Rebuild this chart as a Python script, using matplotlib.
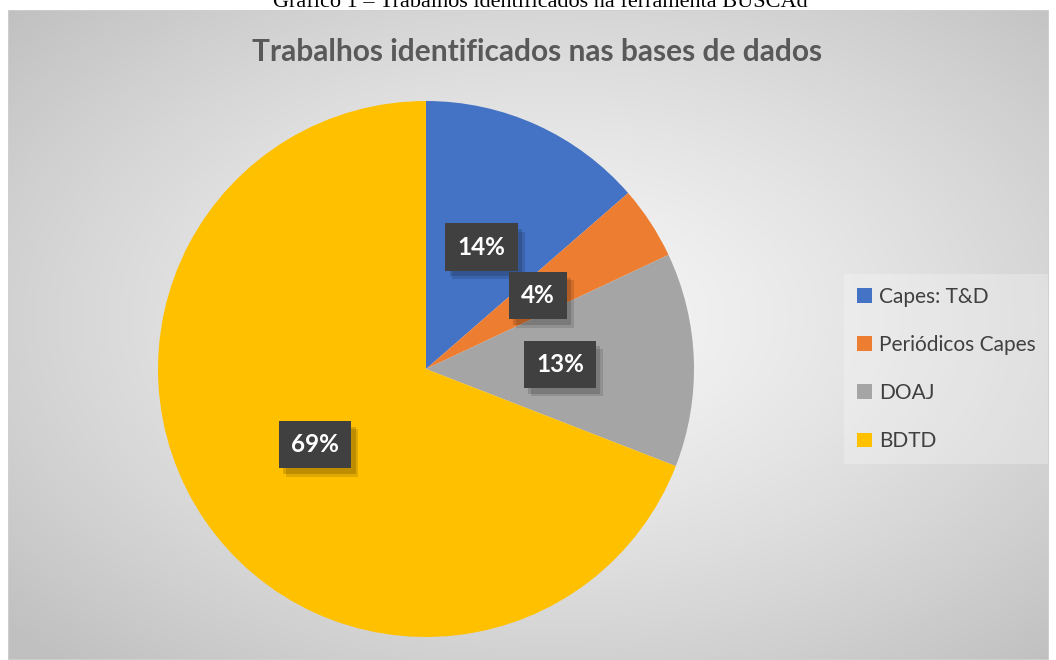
import numpy as np
import matplotlib.pyplot as plt
from matplotlib import patheffects as pe
from matplotlib.patches import Rectangle

# data
labels = ['Capes: T&D', 'Periódicos Capes', 'DOAJ', 'BDTD']
shares = [13.6, 4.4, 12.9, 69.1]
colors = ['#4472C4', '#ED7D31', '#A5A5A5', '#FFC000']
title = 'Trabalhos identificados nas bases de dados'
caption = 'Gráfico 1 – Trabalhos identificados na ferramenta BUSCAd'

W, H = 1056, 660
fig = plt.figure(figsize=(W / 100, H / 100), dpi=100)
fig.patch.set_facecolor('white')

# chart area with radial gradient background
x0, y0, x1, y1 = 8, 10, 1049, 660  # pixels, from top
bg = fig.add_axes([x0 / W, 1 - y1 / H, (x1 - x0) / W, (y1 - y0) / H])
gx, gy = np.meshgrid(np.linspace(-1, 1, 400), np.linspace(-1, 1, 300))
r = np.sqrt((gx - 0.05) ** 2 + (gy + 0.05) ** 2) / np.sqrt(2)
val = 0.965 - 0.21 * np.clip(r, 0, 1) ** 1.3
bg.imshow(np.dstack([val, val, val]), aspect='auto', extent=[0, 1, 0, 1])
bg.set_xlim(0, 1)
bg.set_ylim(0, 1)
bg.axis('off')
bg.add_patch(Rectangle((0, 0), 1, 1, transform=bg.transAxes, fill=False,
                       edgecolor='#d0d0d0', lw=1.2))

fig.text(0.512, 1 - 7 / H, caption, ha='center', va='baseline',
         fontsize=16, family='Liberation Serif', color='black')

fig.text(537 / W, 1 - 52 / H, title, ha='center', va='center',
         fontsize=21.5, fontweight='bold', family='Lato', color='#595959')

# pie
cx, cy, R = 426, 369, 268
ax = fig.add_axes([(cx - R) / W, (H - cy - R) / H, 2 * R / W, 2 * R / H])
ax.set_facecolor('none')
wedges, texts, autotexts = ax.pie(
    shares, colors=colors, startangle=90, counterclock=False,
    autopct='%.0f%%', pctdistance=0.5, radius=1,
    wedgeprops=dict(linewidth=0),
    textprops=dict(color='white', fontsize=17.5, fontweight='bold', family='Lato'))
ax.set_xlim(-1, 1)
ax.set_ylim(-1, 1)
ax.axis('off')

for t in autotexts:
    t.set_bbox(dict(boxstyle='square,pad=0.5', facecolor='#404040',
                    edgecolor='none', linewidth=0))
    t.get_bbox_patch().set_path_effects(
        [pe.SimplePatchShadow(offset=(5, -6), shadow_rgbFace='black', alpha=0.12),
         pe.SimplePatchShadow(offset=(3, -4), shadow_rgbFace='black', alpha=0.15),
         pe.Normal()])

# legend
leg = fig.legend(wedges, labels, loc='center left',
                 bbox_to_anchor=(834 / W, 1 - 369 / H), frameon=True,
                 prop=dict(family='Lato', size=15), labelcolor='#404040',
                 handlelength=0.7, handleheight=0.7, handletextpad=0.35,
                 labelspacing=1.35, borderpad=0.6, fancybox=False)
leg.get_frame().set_facecolor('white')
leg.get_frame().set_alpha(0.25)
leg.get_frame().set_linewidth(0)

plt.savefig('out.png', dpi=100)
plt.close()
